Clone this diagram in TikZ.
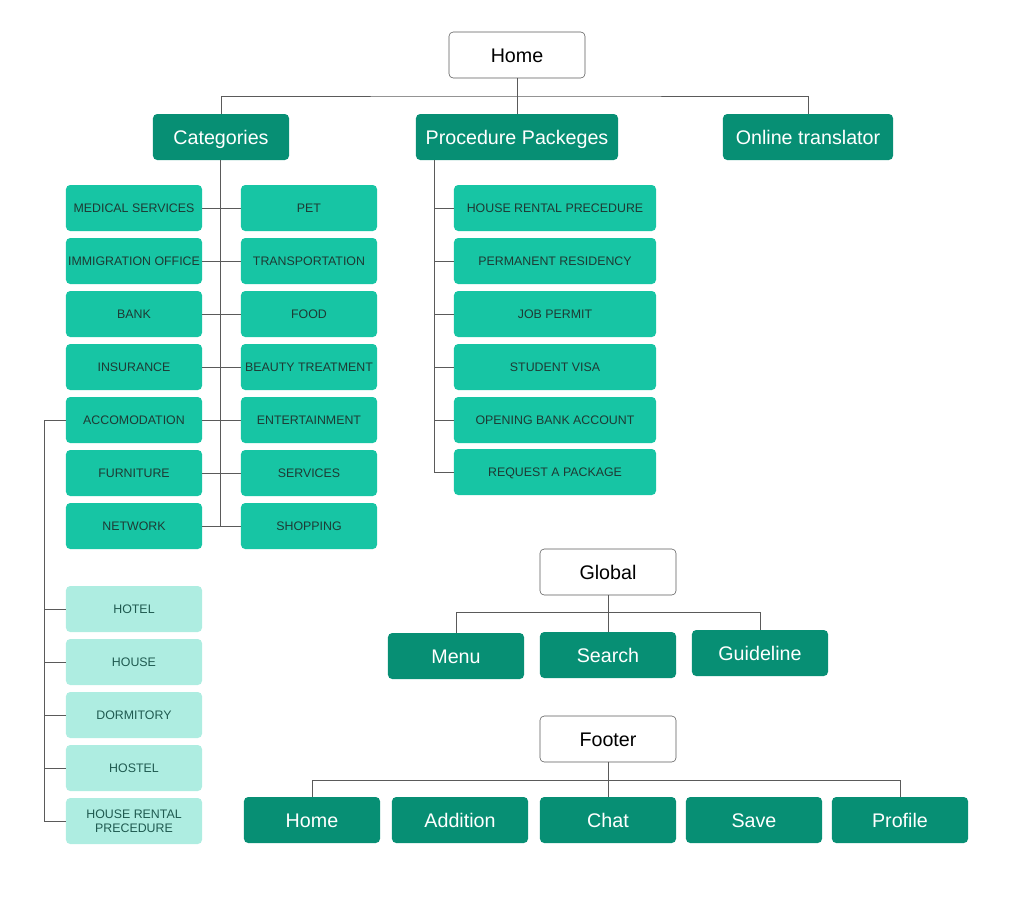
\documentclass[tikz,border=0pt]{standalone}
\usepackage{fontspec}
\setmainfont{Liberation Sans}
\definecolor{darkteal}{HTML}{078F74}
\definecolor{midteal}{HTML}{17C5A4}
\definecolor{paleteal}{HTML}{AEEDE1}
\definecolor{linegray}{HTML}{5A5A5A}
\definecolor{labeltext}{HTML}{1E3A34}
\definecolor{paletext}{HTML}{1F5A50}
\begin{document}
\begin{tikzpicture}[x=0.025cm, y=-0.025cm,
    topbox/.style={draw=linegray, fill=white, rounded corners=3pt, minimum width=3.4cm, minimum height=1.15cm, text height=10pt, text depth=0pt, font=\fontsize{14}{16}\selectfont, text=black},
    mainbox/.style={fill=darkteal, rounded corners=3pt, minimum width=3.4cm, minimum height=1.15cm, text height=10pt, text depth=0pt, font=\fontsize{14}{16}\selectfont, text=white},
    itembox/.style={fill=midteal, rounded corners=3pt, minimum width=3.4cm, minimum height=1.15cm, inner sep=1pt, text height=6.3pt, text depth=0pt, font=\fontsize{8.8}{10}\selectfont, text=labeltext},
    subbox/.style={fill=paleteal, rounded corners=3pt, minimum width=3.4cm, minimum height=1.15cm, inner sep=1pt, align=center, font=\fontsize{8.8}{10}\selectfont, text=paletext},
    link/.style={draw=linegray, line width=0.7pt}]
    \useasboundingbox (0,0) rectangle (1024,896);

    % top level
    \node[topbox] (home) at (517,55) {Home};
    \node[mainbox] (cat) at (221,137) {Categories};
    \node[mainbox, minimum width=5.05cm] (proc) at (517,137) {Procedure Packeges};
    \node[mainbox, minimum width=4.25cm] (trans) at (808,137) {Online translator};
    \draw[link] (home.south) -- (517,96) coordinate (hbar);
    \draw[link] (cat.north) |- (hbar) -| (trans.north);
    \draw[link] (hbar) -- (proc.north);

    % categories, left column
    \node[itembox] (med) at (134,208) {MEDICAL SERVICES};
    \node[itembox] (immi) at (134,261) {IMMIGRATION OFFICE};
    \node[itembox] (bank) at (134,314) {BANK};
    \node[itembox] (ins) at (134,367) {INSURANCE};
    \node[itembox] (acc) at (134,420) {ACCOMODATION};
    \node[itembox] (furn) at (134,473) {FURNITURE};
    \node[itembox] (net) at (134,526) {NETWORK};
    % categories, right column
    \node[itembox] (pet) at (309,208) {PET};
    \node[itembox] (trsp) at (309,261) {TRANSPORTATION};
    \node[itembox] (food) at (309,314) {FOOD};
    \node[itembox] (beauty) at (309,367) {BEAUTY TREATMENT};
    \node[itembox] (ent) at (309,420) {ENTERTAINMENT};
    \node[itembox] (serv) at (309,473) {SERVICES};
    \node[itembox] (shop) at (309,526) {SHOPPING};
    \draw[link] (cat.south -| 220,0) -- (220,526);
    \draw[link] (med.east) -- (pet.west);
    \draw[link] (immi.east) -- (trsp.west);
    \draw[link] (bank.east) -- (food.west);
    \draw[link] (ins.east) -- (beauty.west);
    \draw[link] (acc.east) -- (ent.west);
    \draw[link] (furn.east) -- (serv.west);
    \draw[link] (net.east) -- (shop.west);

    % accomodation
    \node[subbox] (hotel) at (134,609) {HOTEL};
    \node[subbox] (house) at (134,662) {HOUSE};
    \node[subbox] (dorm) at (134,715) {DORMITORY};
    \node[subbox] (hostel) at (134,768) {HOSTEL};
    \node[subbox] (rent) at (134,821) {HOUSE RENTAL\\PRECEDURE};
    \draw[link] (acc.west) -- (44,420) -- (44,821) -- (rent.west);
    \draw[link] (44,609) -- (hotel.west);
    \draw[link] (44,662) -- (house.west);
    \draw[link] (44,715) -- (dorm.west);
    \draw[link] (44,768) -- (hostel.west);

    % procedure packages
    \node[itembox, minimum width=5.05cm] (hrp) at (555,208) {HOUSE RENTAL PRECEDURE};
    \node[itembox, minimum width=5.05cm] (perm) at (555,261) {PERMANENT RESIDENCY};
    \node[itembox, minimum width=5.05cm] (job) at (555,314) {JOB PERMIT};
    \node[itembox, minimum width=5.05cm] (visa) at (555,367) {STUDENT VISA};
    \node[itembox, minimum width=5.05cm] (acct) at (555,420) {OPENING BANK ACCOUNT};
    \node[itembox, minimum width=5.05cm] (req) at (555,472) {REQUEST A PACKAGE};
    \draw[link] (434,160) -- (434,472) -- (req.west);
    \draw[link] (434,208) -- (hrp.west);
    \draw[link] (434,261) -- (perm.west);
    \draw[link] (434,314) -- (job.west);
    \draw[link] (434,367) -- (visa.west);
    \draw[link] (434,420) -- (acct.west);

    % global
    \node[topbox] (glob) at (608,572) {Global};
    \node[mainbox] (menu) at (456,656) {Menu};
    \node[mainbox] (search) at (608,655) {Search};
    \node[mainbox] (guide) at (760,653) {Guideline};
    \draw[link] (glob.south) -- (608,612) coordinate (gbar);
    \draw[link] (menu.north) |- (gbar) -| (guide.north);
    \draw[link] (gbar) -- (search.north);

    % footer
    \node[topbox] (foot) at (608,739) {Footer};
    \node[mainbox] (fhome) at (312,820) {Home};
    \node[mainbox] (add) at (460,820) {Addition};
    \node[mainbox] (chat) at (608,820) {Chat};
    \node[mainbox] (save) at (754,820) {Save};
    \node[mainbox] (prof) at (900,820) {Profile};
    \draw[link] (foot.south) -- (608,780) coordinate (fbar);
    \draw[link] (fhome.north) |- (fbar) -| (prof.north);
    \draw[link] (fbar) -- (chat.north);
\end{tikzpicture}
\end{document}
